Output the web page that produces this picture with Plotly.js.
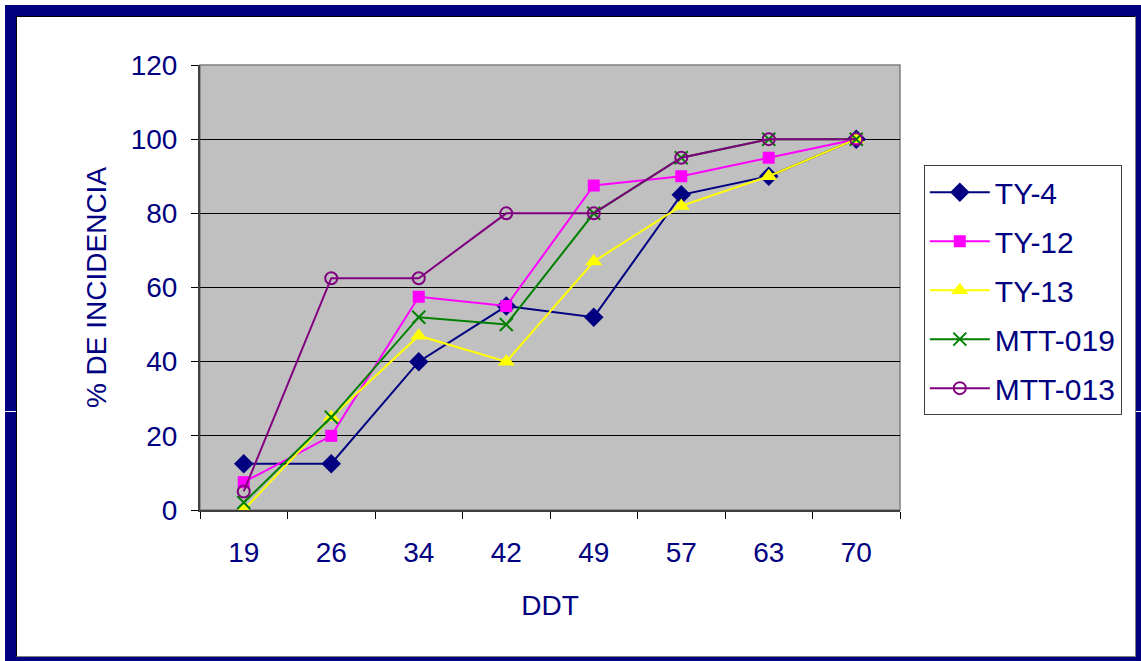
<!DOCTYPE html>
<html>
<head>
<meta charset="utf-8">
<script src="https://cdn.plot.ly/plotly-3.0.1.min.js"></script>
<style>
  html, body { margin: 0; padding: 0; background: #ffffff; overflow: hidden; }
  #chart { position: absolute; left: 0; top: 0; width: 1141px; height: 661px; }
  #frame { position: absolute; left: 5px; top: 5px; width: 1120px; height: 641px;
           border: 11px solid #000080; pointer-events: none; }
  #inner { position: absolute; left: 0; top: 0; right: 0; bottom: 0;
           border-top: 1px solid #000000; border-left: 1px solid #000000;
           border-right: 1px solid #808080; border-bottom: 1px solid #808080; }
  .gap { position: absolute; height: 1px; background: #ffffff; top: 411px; }
</style>
</head>
<body>
<div id="chart"></div>
<div id="frame"><div id="inner"></div></div>
<div class="gap" style="left:5px;width:11px;"></div>
<div class="gap" style="left:1136px;width:5px;"></div>
<script>
const categories = ["19", "26", "34", "42", "49", "57", "63", "70"];
const ty4    = [12.5, 12.5, 40, 55, 52, 85, 90, 100];
const ty12   = [7.5, 20, 57.5, 55, 87.5, 90, 95, 100];
const ty13   = [0, 25, 47, 40, 67, 82, 90, 100];
const mtt019 = [2, 25, 52, 50, 80, 95, 100, 100];
const mtt013 = [5, 62.5, 62.5, 80, 80, 95, 100, 100];
const yTicks = [0, 20, 40, 60, 80, 100, 120];

const navy = "#000080";
const font = "Arial, 'Liberation Sans', sans-serif";

function tr(name, y, color, symbol, size, lineW) {
  return {
    type: "scatter", mode: "lines+markers", name: name, x: categories, y: y,
    legendgroup: name,
    line: { color: color, width: 2 },
    marker: { color: color, symbol: symbol, size: size,
              line: { color: color, width: lineW } }
  };
}

const data = [
  tr("TY-4", ty4, "#000080", "diamond", 15, 0),
  tr("TY-12", ty12, "#FF00FF", "square", 12, 0),
  tr("TY-13", ty13, "#FFFF00", "triangle-up", 15, 0),
  tr("MTT-019", mtt019, "#008000", "x-thin-open", 13, 2),
  tr("MTT-013", mtt013, "#800080", "circle-open", 12, 2)
];

const layout = {
  width: 1141, height: 661,
  margin: { l: 200, r: 241, t: 65, b: 151 },
  paper_bgcolor: "#ffffff",
  plot_bgcolor: "#C0C0C0",
  font: { family: font, size: 28, color: navy },
  showlegend: true,
  legend: {
    x: 1.034, y: 0.775, xanchor: "left", yanchor: "top",
    bgcolor: "#ffffff", bordercolor: "#404040", borderwidth: 1,
    font: { family: font, size: 30, color: navy },
    traceorder: "grouped", tracegroupgap: 7, itemwidth: 60
  },
  xaxis: {
    type: "category", categoryorder: "array", categoryarray: categories,
    range: [-0.5, 7.5],
    tickson: "boundaries", ticks: "outside", ticklen: 7, tickcolor: "#000000", tickwidth: 1,
    showgrid: false, zeroline: false,
    showline: true, linecolor: "#404040", linewidth: 2,
    ticklabelstandoff: 16,
    tickfont: { family: font, size: 28, color: navy },
    title: { text: "DDT", font: { family: font, size: 28, color: navy }, standoff: 29 }
  },
  yaxis: {
    range: [0, 120], tickvals: yTicks, ticktext: yTicks.map(String),
    ticks: "outside", ticklen: 7, tickcolor: "#000000", tickwidth: 1,
    showgrid: true, gridcolor: "#000000", gridwidth: 1,
    zeroline: false,
    showline: true, linecolor: "#404040", linewidth: 2,
    ticklabelstandoff: 8,
    tickfont: { family: font, size: 28, color: navy },
    title: { text: "% DE INCIDENCIA", font: { family: font, size: 28, color: navy }, standoff: 16 }
  },
  shapes: [
    { type: "rect", xref: "paper", yref: "paper", x0: 0, x1: 1, y0: 0, y1: 1,
      line: { color: "#808080", width: 1.5 }, layer: "below" }
  ]
};

Plotly.newPlot("chart", data, layout, { displayModeBar: false, staticPlot: true });
</script>
</body>
</html>
